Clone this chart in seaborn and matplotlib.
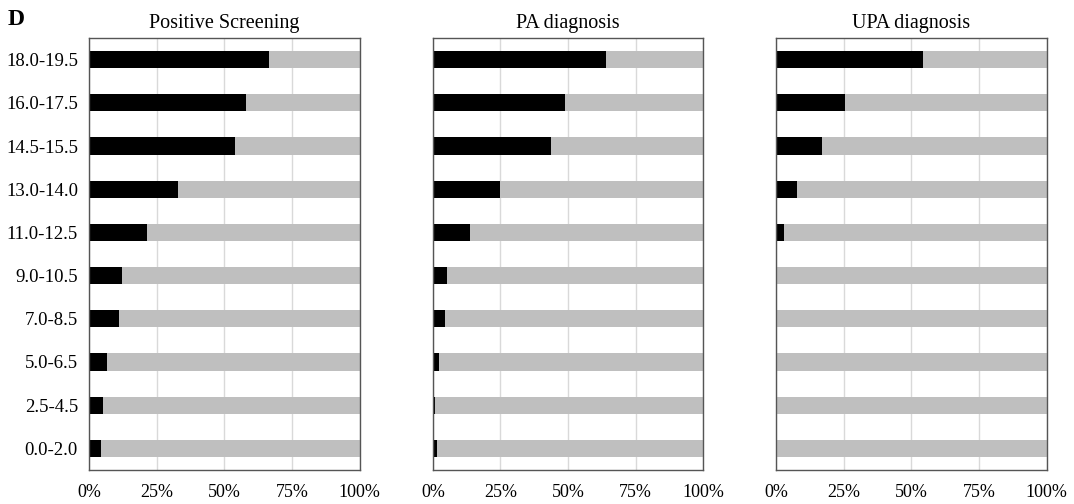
import numpy as np
import pandas as pd
import matplotlib
matplotlib.use("Agg")
from matplotlib import pyplot as plt
import seaborn as sns

# 分组（从上到下）
groups = ["18.0-19.5", "16.0-17.5", "14.5-15.5", "13.0-14.0", "11.0-12.5",
          "9.0-10.5", "7.0-8.5", "5.0-6.5", "2.5-4.5", "0.0-2.0"]

# 各面板阳性比例 (%)
positive_screening = [66.5, 58.0, 54.0, 33.0, 21.6, 12.0, 11.0, 6.5, 5.0, 4.3]
pa_diagnosis = [64.0, 49.0, 43.5, 25.0, 13.6, 5.3, 4.4, 2.3, 0.7, 1.5]
upa_diagnosis = [54.5, 25.4, 17.0, 7.8, 3.0, 0.0, 0.4, 0.0, 0.0, 0.0]

panel_titles = ["Positive Screening", "PA diagnosis", "UPA diagnosis"]
panel_values = [positive_screening, pa_diagnosis, upa_diagnosis]
x_ticks = [0, 25, 50, 75, 100]
x_tick_labels = ["0%", "25%", "50%", "75%", "100%"]

sns.set_style("white")
plt.rcParams["font.family"] = ["Liberation Serif", "DejaVu Serif"]
plt.rcParams["text.color"] = "black"
plt.rcParams["xtick.color"] = "black"
plt.rcParams["ytick.color"] = "black"
plt.rcParams["axes.labelcolor"] = "black"

fig = plt.figure(figsize=(10.74, 5.04), dpi=100)
lefts = [0.0829, 0.403, 0.7225]
w, b, h = 0.252, 0.0675, 0.857

for i, (title, vals) in enumerate(zip(panel_titles, panel_values)):
    ax = fig.add_axes([lefts[i], b, w, h])
    df = pd.DataFrame({"group": groups, "pos": vals, "total": [100.0] * len(groups)})
    sns.barplot(data=df, x="total", y="group", order=groups, color="#BFBFBF",
                width=0.4, ax=ax, orient="h", saturation=1, linewidth=0)
    sns.barplot(data=df, x="pos", y="group", order=groups, color="#000000",
                width=0.4, ax=ax, orient="h", saturation=1, linewidth=0)
    ax.set_xlim(0, 100)
    ax.set_ylim(len(groups) - 0.5, -0.5)
    ax.set_xticks(x_ticks)
    ax.set_xticklabels(x_tick_labels, fontsize=13)
    ax.xaxis.grid(True, color="#D9D9D9", linewidth=1.0)
    ax.yaxis.grid(False)
    ax.set_axisbelow(True)
    ax.tick_params(axis="x", length=0, pad=10, colors="black")
    ax.tick_params(axis="y", length=0, pad=8, colors="black")
    ax.set_xlabel("")
    ax.set_ylabel("")
    if i == 0:
        ax.set_yticks(range(len(groups)))
        ax.set_yticklabels(groups, fontsize=13.5)
    else:
        ax.set_yticklabels([])
    ax.set_title(title, fontsize=14.5, pad=7, color="black")
    for s in ax.spines.values():
        s.set_visible(True)
        s.set_color("#555555")
        s.set_linewidth(1.0)

fig.text(0.007, 0.962, "D", fontsize=17, fontweight="bold", va="center", color="black")

plt.savefig("out.png", dpi=100)
